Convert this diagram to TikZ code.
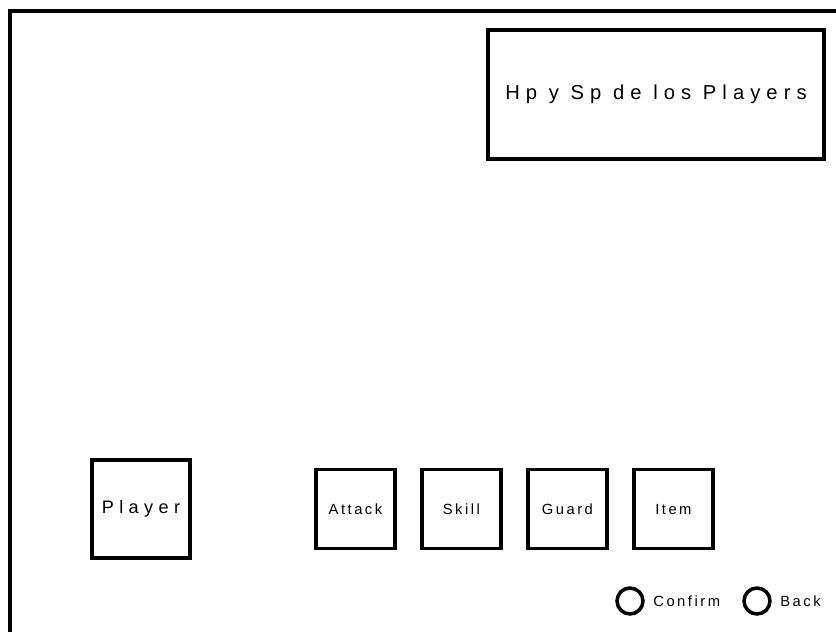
\documentclass[tikz,border=0pt]{standalone}
\usepackage{fontspec}
\setmainfont{Liberation Sans}
\newfontfamily\widefont[LetterSpace=30]{Liberation Sans}
\newfontfamily\tightfont[LetterSpace=17]{Liberation Sans}
\usetikzlibrary{positioning}

\tikzset{
    panel/.style={draw, line width=2.2pt, outer sep=0pt, align=center},
    bigbox/.style={panel, font=\widefont\fontsize{10.3}{12}\selectfont},
    cmdbox/.style={panel, minimum size=1.58cm, inner sep=0pt, font=\tightfont\fontsize{8.4}{10}\selectfont},
    btncircle/.style={draw, circle, line width=2pt, minimum size=0.52cm, inner sep=0pt, outer sep=0pt},
    btnlabel/.style={inner sep=0pt, font=\tightfont\fontsize{8.4}{10}\selectfont}
}

\begin{document}
\begin{tikzpicture}[x=0.02cm, y=-0.02cm, node distance=0.54cm]
    \useasboundingbox (0,0) rectangle (836,632);
    \clip (0,0) rectangle (836,632);
    % screen frame
    \draw[line width=2.3pt] (10,11) rectangle (900,700);

    \node[bigbox, minimum width=6.72cm, minimum height=2.58cm, font=\widefont\fontsize{11.5}{13}\selectfont] (stats) at (656,94.5) {Hp y Sp de los Players};
    \node[bigbox, minimum size=1.96cm] (player) at (141,509) {Player};

    % command menu
    \node[cmdbox, right=2.52cm of player] (attack) {Attack};
    \node[cmdbox, right=of attack] (skill) {Skill};
    \node[cmdbox, right=of skill] (guard) {Guard};
    \node[cmdbox, right=of guard] (item) {Item};

    % buttons
    \node[btncircle] (confirm) at (630,601) {};
    \node[btnlabel, right=0.2cm of confirm] (confirmlbl) {Confirm};
    \node[btncircle] (back) at (757,601) {};
    \node[btnlabel, right=0.2cm of back] (backlbl) {Back};
\end{tikzpicture}
\end{document}
